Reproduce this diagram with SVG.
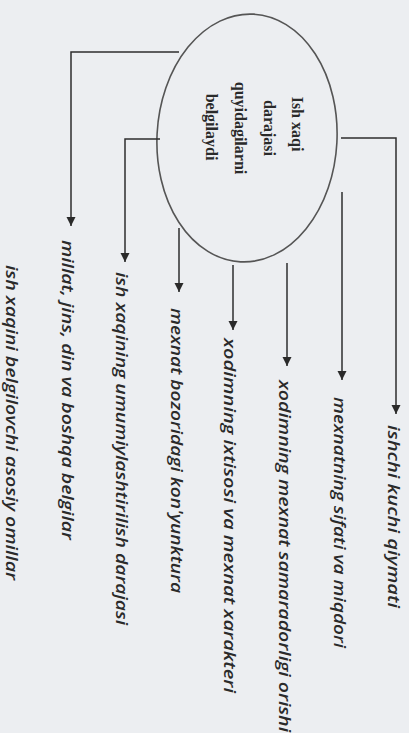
<svg xmlns="http://www.w3.org/2000/svg" width="409" height="733" viewBox="0 0 409 733">
<style>
.bg{fill:#eceef1}
.ln{fill:none;stroke:#2e2e2e;stroke-width:1.5}
.el{fill:none;stroke:#555;stroke-width:1.6}
.lb{font-family:"Open Sans","Liberation Sans",sans-serif;font-style:italic;font-weight:600;font-size:16.5px;fill:#2a2a2a}
.ct{font-family:"Liberation Serif","DejaVu Serif",serif;font-weight:bold;font-size:16px;fill:#2a2a2a;text-anchor:middle}
</style>
<defs>
<marker id="ah" markerWidth="10" markerHeight="10" refX="9" refY="4.5" orient="auto" markerUnits="userSpaceOnUse">
<path d="M0,0 L9,4.5 L0,9 Z" fill="#2a2a2a"/>
</marker>
</defs>
<rect class="bg" x="0" y="0" width="409" height="733"/>
<g id="center">
<ellipse class="el" cx="247" cy="138" rx="90" ry="124" transform="rotate(3 247 138)"/>
<text class="ct" transform="translate(292,124) rotate(90)">Ish xaqi</text>
<text class="ct" transform="translate(264,128) rotate(90)">darajasi</text>
<text class="ct" transform="translate(235,128) rotate(90)">quyidagilarni</text>
<text class="ct" transform="translate(206,127) rotate(90)">belgilaydi</text>
</g>
<g id="connectors">
<path class="ln" d="M341,138 H396 V414" marker-end="url(#ah)"/>
<path class="ln" d="M342,192 V380" marker-end="url(#ah)"/>
<path class="ln" d="M287,263 V366" marker-end="url(#ah)"/>
<path class="ln" d="M233,265 V330" marker-end="url(#ah)"/>
<path class="ln" d="M179,228 V292" marker-end="url(#ah)"/>
<path class="ln" d="M160,139 H125 V262" marker-end="url(#ah)"/>
<path class="ln" d="M179,52 H71 V226" marker-end="url(#ah)"/>
</g>
<g id="n1"><text class="lb" transform="translate(388,425) rotate(90)" textLength="183" lengthAdjust="spacingAndGlyphs">ishchi kuchi qiymati</text></g>
<g id="n2"><text class="lb" transform="translate(334,397) rotate(90)" textLength="251" lengthAdjust="spacingAndGlyphs">mexnatning sifati va miqdori</text></g>
<g id="n3"><text class="lb" transform="translate(279,380) rotate(90)" textLength="352" lengthAdjust="spacingAndGlyphs">xodimning mexnat samaradorligi orishi</text></g>
<g id="n4"><text class="lb" transform="translate(224,338) rotate(90)" textLength="355" lengthAdjust="spacingAndGlyphs">xodimning ixtisosi va mexnat xarakteri</text></g>
<g id="n5"><text class="lb" transform="translate(171,308) rotate(90)" textLength="285" lengthAdjust="spacingAndGlyphs">mexnat bozoridagi kon'yunktura</text></g>
<g id="n6"><text class="lb" transform="translate(116,272) rotate(90)" textLength="353" lengthAdjust="spacingAndGlyphs">ish xaqining umumiylashtirilish darajasi</text></g>
<g id="n7"><text class="lb" transform="translate(62,240) rotate(90)" textLength="300" lengthAdjust="spacingAndGlyphs">millat, jins, din va boshqa belgilar</text></g>
<g id="n8"><text class="lb" transform="translate(6,265) rotate(90)" textLength="315" lengthAdjust="spacingAndGlyphs">ish xaqini belgilovchi asosiy omillar</text></g>
</svg>
